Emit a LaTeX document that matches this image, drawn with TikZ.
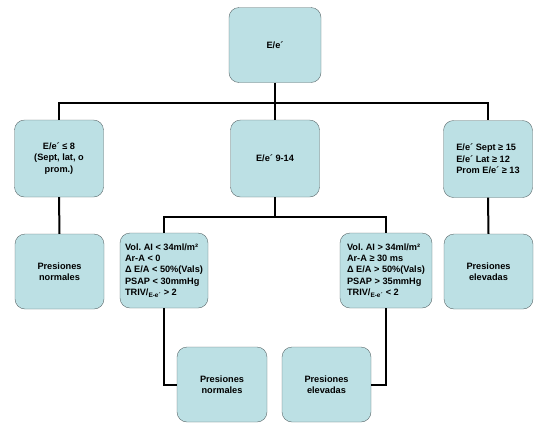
\documentclass[tikz,border=0pt]{standalone}
\usepackage{fontspec}
\setmainfont{Liberation Sans}
\usepackage{tikz}
\usetikzlibrary{positioning}

\definecolor{boxfill}{RGB}{188,224,228}
\definecolor{boxline}{RGB}{90,104,106}

\frenchspacing

\begin{document}
\begin{tikzpicture}[
    x=1pt, y=-1pt,
    box/.style={rectangle, draw=boxline, fill=boxfill, rounded corners=10pt,
                align=center, minimum width=89pt, minimum height=75pt,
                inner sep=2pt, font=\fontsize{9.2}{11.3}\selectfont\bfseries},
    link/.style={line width=2pt, black}
  ]
    \useasboundingbox (0,0) rectangle (550,432);

    % first and second level
    \node[box, minimum width=92pt] (top) at (275,45)    {E/e´};
    \node[box, minimum height=77pt] (eleft)  at (59,158.5)  {E/e´ ≤ 8\\(Sept, lat, o\\prom.)};
    \node[box, minimum height=77pt] (emid)   at (275,158.5) {E/e´ 9-14};
    \node[box, minimum height=77pt, align=left] (eright) at (488,159)
      {E/e´ Sept ≥ 15\\E/e´ Lat ≥ 12\\Prom E/e´ ≥ 13};

    % third level
    \node[box] (normleft)  at (59.5,271.5) {Presiones\\normales};
    \node[box, minimum width=88pt, align=left] (volleft) at (164,270.5)
      {Vol. AI < 34ml/m²\\Ar-A < 0\\Δ E/A < 50\%(Vals)\\PSAP < 30mmHg\\TRIV/\textsubscript{E-e´} > 2};
    \node[box, minimum width=92pt, align=left] (volright) at (386,270.5)
      {Vol. AI > 34ml/m²\\Ar-A ≥ 30 ms\\Δ E/A > 50\%(Vals)\\PSAP > 35mmHg\\TRIV/\textsubscript{E-e´} < 2};
    \node[box] (highright) at (488.5,271.5) {Presiones\\elevadas};

    % fourth level
    \node[box, minimum width=90pt] (normmid) at (222,384.5) {Presiones\\normales};
    \node[box] (highmid) at (326.5,384.5) {Presiones\\elevadas};

    \coordinate (split)  at (275,103);
    \coordinate (split2) at (275,217);

    \draw[link] (top.south) -- (split);
    \draw[link] (eleft.north) |- (split) -| (eright.north);
    \draw[link] (split) -- (emid.north);

    \draw[link] (eleft.south) -- (normleft.north);
    \draw[link] (eright.south) -- (highright.north);

    \draw[link] (emid.south) -- (split2);
    \draw[link] (volleft.north) |- (split2) -| (volright.north);

    \draw[link] (volleft.south) |- (normmid.west);
    \draw[link] (volright.south) |- (highmid.east);
  \end{tikzpicture}
\end{document}
